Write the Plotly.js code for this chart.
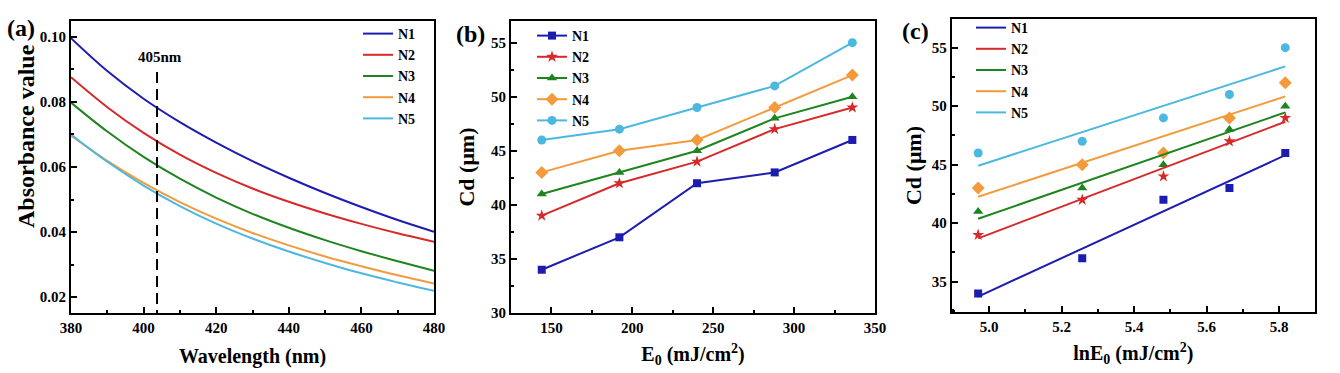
<!DOCTYPE html>
<html>
<head>
<meta charset="utf-8">
<script src="https://cdn.plot.ly/plotly-3.0.1.min.js"></script>
<style>html,body{margin:0;padding:0;background:#fff;}#chart{width:1340px;height:373px;}</style>
</head>
<body>
<div id="chart"></div>
<script>
// ---------- data ----------
const seriesNames = ['N1', 'N2', 'N3', 'N4', 'N5'];

// (a) absorbance spectra
const wavelength = [380, 390, 400, 410, 420, 430, 440, 450, 460, 470, 480];
const absN1 = [0.0996, 0.0895, 0.0810, 0.0738, 0.0675, 0.0618, 0.0567, 0.0520, 0.0477, 0.0437, 0.0401];
const absN2 = [0.0876, 0.0784, 0.0705, 0.0638, 0.0582, 0.0534, 0.0493, 0.0457, 0.0425, 0.0396, 0.0370];
const absN3 = [0.0798, 0.0709, 0.0631, 0.0564, 0.0506, 0.0456, 0.0413, 0.0375, 0.0341, 0.0310, 0.0281];
const absN4 = [0.0697, 0.0619, 0.0551, 0.0492, 0.0441, 0.0397, 0.0359, 0.0325, 0.0295, 0.0267, 0.0242];
const absN5 = [0.0700, 0.0616, 0.0543, 0.0480, 0.0426, 0.0380, 0.0340, 0.0305, 0.0273, 0.0245, 0.0219];
const markerWavelength = [403.7];
const markerLineTop = [0.0892];

// (b) cure depth vs exposure energy
const energy = [144, 192, 240, 288, 336];
const cdN1 = [34, 37, 42, 43, 46];
const cdN2 = [39, 42, 44, 47, 49];
const cdN3 = [41, 43, 45, 48, 50];
const cdN4 = [43, 45, 46, 49, 52];
const cdN5 = [46, 47, 49, 51, 55];

// (c) cure depth vs ln(E0) with fitted lines
const lnEnergy = [4.970, 5.257, 5.481, 5.663, 5.817];
const fitX = [4.970, 5.817];
const fitN1 = [33.73, 45.81];
const fitN2 = [38.70, 48.67];
const fitN3 = [40.38, 49.47];
const fitN4 = [42.26, 50.84];
const fitN5 = [44.91, 53.40];

// ---------- styling ----------
const colors = ['#1c1cb0', '#d62a2a', '#1e841e', '#f39b3c', '#4cb8e0'];
const symbols = ['square', 'star', 'triangle-up', 'diamond', 'circle'];
const msizes = [8, 9, 9, 10, 9];
const FONT = 'Liberation Serif, Times New Roman, serif';
const f = (s) => ({family: FONT, size: s, color: '#000', weight: 'bold'});

const absData = [absN1, absN2, absN3, absN4, absN5];
const cdData = [cdN1, cdN2, cdN3, cdN4, cdN5];
const fitData = [fitN1, fitN2, fitN3, fitN4, fitN5];

const traces = [];
seriesNames.forEach((n, i) => {
  traces.push({x: wavelength, y: absData[i], name: n, type: 'scatter', mode: 'lines',
    line: {color: colors[i], width: 2, shape: 'spline', smoothing: 1}, xaxis: 'x', yaxis: 'y', legend: 'legend'});
});
seriesNames.forEach((n, i) => {
  traces.push({x: energy, y: cdData[i], name: n, type: 'scatter', mode: 'lines+markers',
    line: {color: colors[i], width: 2}, marker: {symbol: symbols[i], size: msizes[i], color: colors[i]},
    xaxis: 'x2', yaxis: 'y2', legend: 'legend2'});
});
seriesNames.forEach((n, i) => {
  traces.push({x: lnEnergy, y: cdData[i], name: n, type: 'scatter', mode: 'markers', showlegend: false,
    marker: {symbol: symbols[i], size: msizes[i], color: colors[i]}, xaxis: 'x3', yaxis: 'y3'});
});
seriesNames.forEach((n, i) => {
  traces.push({x: fitX, y: fitData[i], name: n, type: 'scatter', mode: 'lines',
    line: {color: colors[i], width: 2}, xaxis: 'x3', yaxis: 'y3', legend: 'legend3'});
});

// plot area in pixels
const W = 1340, H = 373, ML = 71, MR = 25, MT = 19, MB = 60;
const IW = W - ML - MR, IH = H - MT - MB;
const px = (p) => (p - ML) / IW;
const py = (p) => (H - MB - p) / IH;

const axisBase = {showline: true, linewidth: 2, linecolor: '#000', mirror: true, showgrid: false, zeroline: false,
  ticks: 'inside', ticklen: 6, tickwidth: 2, tickcolor: '#000', tickfont: f(15)};
const minor = (d, t0) => ({ticks: 'inside', ticklen: 3, tickwidth: 2, tickcolor: '#000', dtick: d, tick0: t0, showgrid: false});

const legendBase = {bgcolor: 'rgba(0,0,0,0)', borderwidth: 0, font: f(14), tracegroupgap: 0, xanchor: 'left', yanchor: 'top', itemwidth: 30};

const layout = {
  width: W, height: H, margin: {l: ML, r: MR, t: MT, b: MB}, paper_bgcolor: '#fff', plot_bgcolor: '#fff',
  font: f(15), showlegend: true,
  xaxis: Object.assign({}, axisBase, {domain: [px(71), px(434)], range: [380, 480], dtick: 20, tick0: 380,
    minor: minor(10, 380), anchor: 'y',
    title: {text: 'Wavelength (nm)', font: f(20), standoff: 14}}),
  yaxis: Object.assign({}, axisBase, {domain: [py(313), py(21)], range: [0.0151, 0.1049], dtick: 0.02, tick0: 0,
    tickformat: '.2f', minor: minor(0.01, 0), anchor: 'x'}),
  xaxis2: Object.assign({}, axisBase, {domain: [px(511), px(875)], range: [125, 350], dtick: 50, tick0: 0,
    minor: minor(25, 0), anchor: 'y2',
    title: {text: 'E<sub>0</sub> (mJ/cm<sup>2</sup>)', font: f(20), standoff: 12}}),
  yaxis2: Object.assign({}, axisBase, {domain: [py(313), py(21)], range: [30, 57], dtick: 5, tick0: 0,
    minor: minor(2.5, 0), anchor: 'x2',
    title: {text: 'Cd (μm)', font: f(22), standoff: 10}}),
  xaxis3: Object.assign({}, axisBase, {domain: [px(951.7), px(1315)], range: [4.897, 5.899], dtick: 0.2, tick0: 5.0,
    tickformat: '.1f', minor: minor(0.1, 5.0), anchor: 'y3',
    title: {text: 'lnE<sub>0</sub> (mJ/cm<sup>2</sup>)', font: f(20), standoff: 12}}),
  yaxis3: Object.assign({}, axisBase, {domain: [py(312), py(19)], range: [32.41, 57.45], dtick: 5, tick0: 0,
    minor: minor(2.5, 0), anchor: 'x3',
    title: {text: 'Cd (μm)', font: f(22), standoff: 4}}),
  legend: Object.assign({}, legendBase, {x: px(358), y: py(18)}),
  legend2: Object.assign({}, legendBase, {x: px(532), y: py(20)}),
  legend3: Object.assign({}, legendBase, {x: px(971), y: py(12)}),
  shapes: [{type: 'line', xref: 'x', yref: 'y', x0: markerWavelength[0], x1: markerWavelength[0],
    y0: markerLineTop[0], y1: 0.0151, line: {color: '#000', width: 2, dash: '11px,6px'}}],
  annotations: [
    {xref: 'paper', yref: 'paper', x: px(5), y: py(28), xanchor: 'left', yanchor: 'middle', text: '(a)', showarrow: false, font: f(24)},
    {xref: 'paper', yref: 'paper', x: px(454), y: py(34), xanchor: 'left', yanchor: 'middle', text: '(b)', showarrow: false, font: f(24)},
    {xref: 'paper', yref: 'paper', x: px(900), y: py(31), xanchor: 'left', yanchor: 'middle', text: '(c)', showarrow: false, font: f(24)},
    {xref: 'paper', yref: 'paper', x: px(26), y: py(136), xanchor: 'center', yanchor: 'middle', textangle: -90,
      text: 'Absorbance value', showarrow: false, font: f(24)},
    {xref: 'x', yref: 'paper', x: 404.6, y: py(57), xanchor: 'center', yanchor: 'middle', text: '405nm', showarrow: false, font: f(15)}
  ]
};

Plotly.newPlot('chart', traces, layout, {displayModeBar: false, staticPlot: true});
</script>
</body>
</html>
